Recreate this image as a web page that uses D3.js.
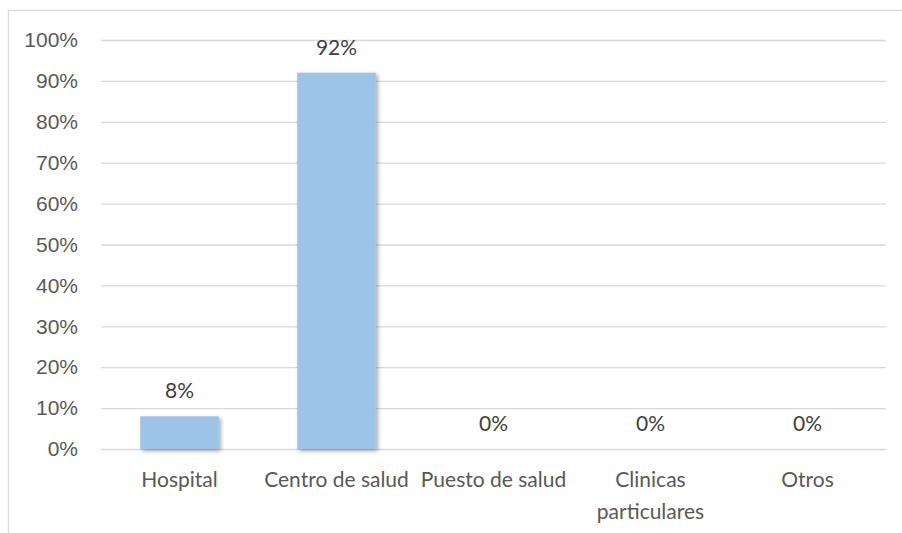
<!DOCTYPE html>
<html>
<head>
<meta charset="utf-8">
<script src="https://cdn.jsdelivr.net/npm/d3@7"></script>
<style>
  html, body { margin: 0; padding: 0; background: #fff; }
  svg { display: block; font-family: Lato, "Open Sans", sans-serif; }
</style>
</head>
<body>
<svg id="chart" width="902" height="533"></svg>
<script>
// Lugar de atención: porcentaje por establecimiento
const categories = ["Hospital", "Centro de salud", "Puesto de salud", "Clinicas particulares", "Otros"];
const values = [8, 92, 0, 0, 0];
const tickValues = [0, 10, 20, 30, 40, 50, 60, 70, 80, 90, 100];

const svg = d3.select("#chart");
const W = 902, H = 533;
const margin = { left: 101, right: 16, top: 40, bottom: 84 };

// chart frame
svg.append("rect")
  .attr("x", 8.5).attr("y", 10.5)
  .attr("width", W + 10).attr("height", H + 10)
  .attr("fill", "none").attr("stroke", "#d9d9d9").attr("stroke-width", 1.3);

const x = d3.scaleBand()
  .domain(categories)
  .range([margin.left, W - margin.right])
  .paddingInner(0.5).paddingOuter(0.25);

const y = d3.scaleLinear()
  .domain([0, 100])
  .range([H - margin.bottom, margin.top]);

const defs = svg.append("defs");
const f = defs.append("filter").attr("id", "shadow")
  .attr("x", "-20%").attr("y", "-20%").attr("width", "140%").attr("height", "140%");
f.append("feDropShadow")
  .attr("dx", 2).attr("dy", 2).attr("stdDeviation", 2)
  .attr("flood-color", "#000").attr("flood-opacity", 0.35);

// horizontal gridlines + y labels
const yAxis = d3.axisLeft(y)
  .tickValues(tickValues)
  .tickFormat(d => d + "%")
  .tickSize(-(W - margin.right - margin.left))
  .tickPadding(23);

const gy = svg.append("g")
  .attr("transform", `translate(${margin.left},0)`)
  .call(yAxis);
gy.select(".domain").remove();
gy.selectAll(".tick line").attr("stroke", "#d9d9d9").attr("stroke-width", 1.3);
gy.selectAll(".tick text")
  .attr("fill", "#595959")
  .attr("font-size", 21);

// bars
svg.append("g").selectAll("rect")
  .data(values)
  .join("rect")
  .attr("x", (d, i) => x(categories[i]))
  .attr("width", x.bandwidth())
  .attr("y", d => y(d))
  .attr("height", d => y(0) - y(d))
  .attr("fill", "#9dc3e6")
  .attr("filter", "url(#shadow)");

// value labels
svg.append("g").selectAll("text")
  .data(values)
  .join("text")
  .attr("x", (d, i) => x(categories[i]) + x.bandwidth() / 2)
  .attr("y", d => y(d) - 18)
  .attr("text-anchor", "middle")
  .attr("fill", "#404040")
  .attr("font-size", 21)
  .text(d => d + "%");

// category labels (wrapped where Excel wraps them)
const labelLines = {
  "Clinicas particulares": ["Clinicas", "particulares"]
};
const gx = svg.append("g");
categories.forEach(c => {
  const lines = labelLines[c] || [c];
  const t = gx.append("text")
    .attr("x", x(c) + x.bandwidth() / 2)
    .attr("y", 487)
    .attr("text-anchor", "middle")
    .attr("fill", "#595959")
    .attr("font-size", 21);
  lines.forEach((ln, k) => {
    t.append("tspan")
      .attr("x", x(c) + x.bandwidth() / 2)
      .attr("dy", k === 0 ? 0 : 32)
      .text(ln);
  });
});
</script>
</body>
</html>
